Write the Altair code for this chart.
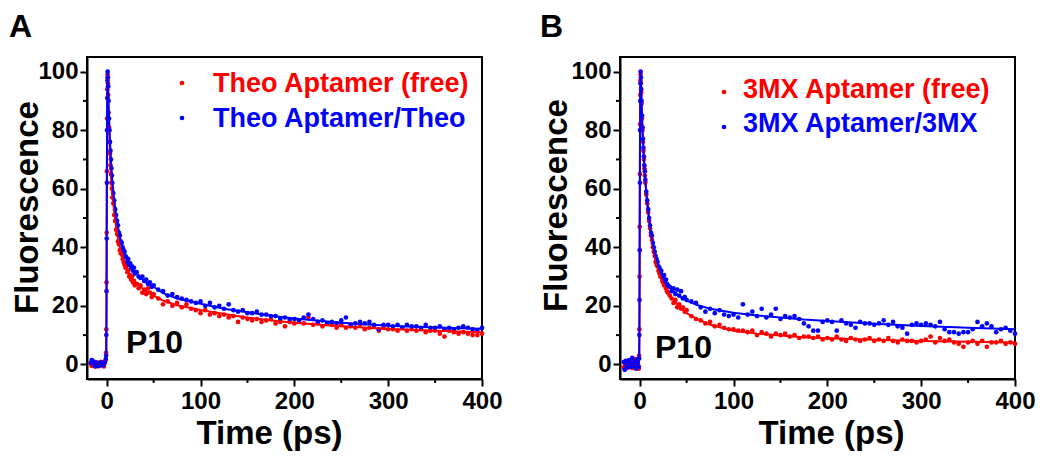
import altair as alt
import pandas as pd

RED = "#ff0000"
BLUE = "#0000ff"
FONT = "Liberation Sans"

# ---------------- data ----------------
time_ps = [
    -17, -16, -15, -14, -13, -12, -11, -10, -9, -8, -7, -6, -5, -4, -3, -2, -1,
    -0.6, -0.4, -0.2, 0, 0.2, 0.4, 0.6, 0.8,
    1.0, 1.3, 1.6, 2.0, 2.5, 3.0, 3.5, 4.0, 4.5, 5, 5.5, 6,
    7, 8, 9, 10, 11, 12, 13, 14, 15, 16, 17, 18, 19, 20,
    21, 22, 23, 24, 25, 26, 27, 28, 29, 30,
    32, 34, 36, 38, 40, 42, 44, 46, 48, 50,
    55, 60, 65, 70, 75, 80, 85, 90, 95, 100,
    105, 110, 115, 120, 125, 130, 135, 140, 145, 150,
    155, 160, 165, 170, 175, 180, 185, 190, 195, 200,
    205, 210, 215, 220, 225, 230, 235, 240, 245, 250,
    255, 260, 265, 270, 275, 280, 285, 290, 295, 300,
    305, 310, 315, 320, 325, 330, 335, 340, 345, 350,
    355, 360, 365, 370, 375, 380, 385, 390, 395, 400,
]

theo_free = [
    0.3, -0.5, 0.8, -0.2, 0.5, -0.8, 0.2, -0.4, 0.6, -0.6, 0.1, 0.9, -0.3, 0.4, -0.7, 0.5, 1.5,
    4, 12, 28, 45, 66, 84, 94, 98,
    99, 96, 92, 86, 81, 76, 72, 68, 65, 62, 60, 57,
    55, 51, 49, 46, 44.5, 42, 41, 39, 38, 37.5, 36, 35, 34, 33,
    33.5, 31.5, 32, 30, 30.5, 29, 30, 28, 28.5, 27,
    27.5, 26, 27, 24.5, 25.5, 24, 26, 24.5, 23, 24,
    22.5, 20.5, 21.5, 20, 21, 19.5, 20.5, 19, 18.5, 17.5,
    18.5, 17, 17.5, 16.5, 17, 16, 16.5, 14.5, 16, 15.5,
    15, 15.5, 14.5, 15, 15.5, 14, 14.5, 13, 14.5, 14,
    15, 14, 16, 13.5, 14, 13, 14, 13.5, 12.5, 13.5,
    12.5, 13, 12.5, 13.5, 12, 12.5, 13, 11.5, 12.5, 12,
    12, 11.5, 12.5, 11.5, 12, 11.5, 12, 11, 11.5, 11.5,
    10.5, 9.5, 11.5, 11, 10.5, 11, 10.5, 10, 10, 10.5,
]

theo_bound = [
    0.5, 1.5, 1.2, 0.3, -0.5, 0.8, -0.3, 0.2, -0.6, 0.4, -0.2, 0.6, 0.1, -0.4, 0.3, 0.8, 1.8,
    3, 10, 25, 43, 62, 80, 91, 97,
    100, 98, 95, 90, 84, 80, 76, 73, 70, 67, 64.5, 62,
    58.5, 56, 53, 51, 49, 47.5, 45, 44, 42, 41.5, 40, 39, 38.5, 37,
    36.5, 35, 36, 34, 34.5, 33, 33.5, 32, 33, 31,
    31.5, 30, 29.5, 30, 28.5, 29, 27.5, 28, 26.5, 27,
    25.5, 25, 23.5, 24, 23, 22.5, 22, 21.5, 21, 21.5,
    20, 21, 19.5, 20, 19, 20.5, 18.5, 18, 18.5, 17.5,
    17.5, 18, 17, 17, 16.5, 16.5, 15.5, 16, 15.5, 15.5,
    15, 16, 17, 15.5, 14.5, 15, 14, 14.5, 14, 15,
    16, 13.5, 14, 14.5, 14, 14.5, 13.5, 12, 13.5, 13.5,
    13, 13.5, 12.5, 13.5, 13, 13, 12.5, 13.5, 12.5, 12.5,
    13, 12, 12.5, 12, 12.5, 13, 12.5, 12, 11.5, 12.5,
]

mx_free = [
    -1, 0.5, -1.5, 0.8, -0.5, 1.2, -0.8, 0.3, 1.5, -1.2, 0.6, -0.3, 1.8, -0.6, 0.9, 0.2, -1.5,
    3, 12, 30, 47, 65, 82, 92, 97,
    99, 96, 93, 89, 84, 80, 76, 73, 70, 67, 64.5, 62,
    58, 55, 52, 49, 46.5, 44, 42.5, 40, 38.5, 37, 35, 34, 33.5, 32,
    31, 30, 30.5, 28.5, 28, 27, 27.5, 26, 25, 24.5,
    23.5, 22.5, 21, 22, 19.5, 20.5, 19, 19.5, 18, 18.5,
    16.5, 15.5, 15, 14, 14.5, 13, 13.5, 12.5, 12, 12,
    11.5, 11.5, 11, 11.5, 10, 11, 10.5, 9.5, 10.5, 10,
    10.5, 9.5, 10, 9, 9.5, 9.5, 9, 9.5, 8.5, 9,
    8.5, 9.5, 8.5, 8, 9, 8.5, 8, 8.5, 9, 8,
    8.5, 8, 9, 8, 7.5, 8.5, 8, 8, 7.5, 8,
    8.5, 9.5, 7.5, 9, 8, 8.5, 7.5, 7, 6, 7.5,
    8, 7, 8, 6, 7.5, 7.5, 8, 7, 7.5, 7,
]

mx_bound = [
    0.8, -1.8, 1.2, -0.5, 0.5, -1, 1.5, 0.2, -0.8, 2.2, 0.4, -0.4, 1, -1.5, 0.6, 1.8, -0.8,
    2, 10, 22, 39, 62, 80, 90, 96,
    100, 98, 94, 90, 85, 81, 77, 74, 71, 68, 66, 63,
    59, 56, 53, 50, 47.5, 45, 44, 41.5, 40, 38.5, 37, 36, 35, 33.5,
    33, 31.5, 32, 30, 29.5, 30.5, 28.5, 29, 27.5, 27,
    26.5, 25, 26, 24, 25.5, 23.5, 25, 22.5, 23, 22,
    21.5, 21, 19.5, 18, 19, 17.5, 18.5, 17, 16.5, 17,
    16, 20.5, 17, 18, 16.5, 19, 16, 17, 19, 15.5,
    16.5, 16, 16.5, 15.5, 14, 13, 11.5, 11.5, 14.5, 15,
    14.5, 11.5, 15, 14, 13.5, 12.5, 14.5, 14, 14, 13.5,
    14, 15, 13.5, 14.5, 13, 12.5, 10.5, 13.5, 14, 13.5,
    14, 13.5, 13, 14.5, 12, 11, 11, 10.5, 11, 11,
    12, 14.5, 13, 14, 13, 11, 12, 12.5, 11.5, 10.5,
]

fit_time = [-17, -2, -1, -0.5, -0.2, 0, 0.3, 0.6, 1, 1.5, 2, 3, 4, 5, 6, 8, 10, 12,
            15, 20, 25, 30, 40, 50, 60, 75, 100, 125, 150, 175, 200, 250, 300, 350, 400]
theo_free_fit = [0.2, 0.2, 0.5, 3, 20, 45, 75, 94, 99, 93, 86, 76, 68, 62, 58, 52, 47, 43,
                 38.5, 33.5, 30, 28, 25.5, 23.5, 21.8, 20.2, 18.6, 17.2, 16, 15, 14.2, 13, 12.1, 11.5, 11.0]
theo_bound_fit = [0.2, 0.2, 0.5, 3, 20, 45, 75, 94, 100, 95, 89, 80, 73, 67, 62.5, 56, 51, 47,
                  42, 37, 33.5, 31.5, 28.5, 26.5, 24.3, 22.5, 20.7, 19, 17.8, 16.6, 15.7, 14.2, 13.2, 12.6, 12.2]
mx_free_fit = [0, 0, 0.3, 3, 20, 45, 75, 94, 100, 95, 89, 80, 73, 67, 62.5, 55, 49, 44,
               38.5, 32, 27.5, 24.5, 20.5, 17.5, 15.7, 13.5, 11.5, 10.5, 9.9, 9.3, 8.9, 8.4, 8.0, 7.7, 7.5]
mx_bound_fit = [0, 0, 0.3, 3, 20, 45, 75, 94, 100, 95, 89, 80, 73, 67, 62.5, 55.5, 50, 45,
                40, 33.5, 29.5, 27, 23.8, 21.8, 20.4, 19, 17.6, 16.7, 16, 15.3, 14.8, 13.9, 13.1, 12.5, 12.0]

x_major = [0, 100, 200, 300, 400]
x_minor = [50, 150, 250, 350]
y_major = [0, 20, 40, 60, 80, 100]
y_minor = [10, 30, 50, 70, 90]

W, H = 395, 322


def panel(letter, letter_x, names, red_vals, blue_vals, red_fit, blue_fit, leg, p10,
          xtitle_x, ytitle_y, ytitle_pad):
    n = len(time_ps)
    pts = pd.DataFrame({"t": time_ps + time_ps, "v": red_vals + blue_vals,
                        "s": [names[0]] * n + [names[1]] * n})
    m = len(fit_time)
    fit = pd.DataFrame({"t": fit_time + fit_time, "v": red_fit + blue_fit,
                        "s": [names[0]] * m + [names[1]] * m})
    xs = alt.Scale(domain=[-21, 400], nice=False, zero=False)
    ys = alt.Scale(domain=[-5, 105], nice=False, zero=False)
    cs = alt.Scale(domain=names, range=[RED, BLUE])
    x = alt.X("t:Q", scale=xs, axis=alt.Axis(values=x_major, title="Time (ps)", labelFlush=False,
                                             titleX=xtitle_x))
    y = alt.Y("v:Q", scale=ys, axis=alt.Axis(values=y_major, title="Fluorescence", titleY=ytitle_y,
                                             titlePadding=ytitle_pad))
    color = alt.Color("s:N", scale=cs, legend=None)

    points = alt.Chart(pts).mark_circle(size=22, opacity=1).encode(x=x, y=y, color=color)
    lines = alt.Chart(fit).mark_line(strokeWidth=2).encode(x=x, y=y, color=color)
    xmin = alt.Chart(pd.DataFrame({"t": x_minor})).mark_rule(color="black", strokeWidth=2).encode(
        x=x, y=alt.value(H), y2=alt.value(H + 4))
    ymin = alt.Chart(pd.DataFrame({"v": y_minor})).mark_rule(color="black", strokeWidth=2).encode(
        y=y, x=alt.value(0), x2=alt.value(-4))

    one = pd.DataFrame({"a": [0]})
    layers = [points, lines, xmin, ymin]
    for name, col, (dx, dy, tx, ty) in zip(names, [RED, BLUE], leg):
        layers.append(alt.Chart(one).mark_circle(size=22, opacity=1, color=col).encode(
            x=alt.value(dx), y=alt.value(dy)))
        layers.append(alt.Chart(one).mark_text(text=name, font=FONT, fontSize=27, fontWeight="bold",
                                               color=col, align="left", baseline="alphabetic").encode(
            x=alt.value(tx), y=alt.value(ty)))
    layers.append(alt.Chart(one).mark_text(text="P10", font=FONT, fontSize=32, fontWeight="bold",
                                           color="black", align="left", baseline="alphabetic").encode(
        x=alt.value(p10[0]), y=alt.value(p10[1])))
    layers.append(alt.Chart(one).mark_text(text=letter, font=FONT, fontSize=32, fontWeight="bold",
                                           color="black", align="left", baseline="alphabetic").encode(
        x=alt.value(letter_x), y=alt.value(-20)))
    return alt.layer(*layers).properties(width=W, height=H)


pa = panel("A", -78, ["Theo Aptamer (free)", "Theo Aptamer/Theo"], theo_free, theo_bound,
           theo_free_fit, theo_bound_fit,
           [(95, 26, 126, 35), (95, 61, 126, 70)], (39, 296), 182, 150, -6.5)
pb = panel("B", -80, ["3MX Aptamer (free)", "3MX Aptamer/3MX"], mx_free, mx_bound,
           mx_free_fit, mx_bound_fit,
           [(104, 35, 123, 41), (104, 70, 123, 75)], (35, 301), 211, 148, -2.5)

chart = alt.hconcat(pa, pb, spacing=35).properties(
    padding={"top": 2, "left": 0, "right": 0, "bottom": 0}
).configure_axis(
    labelFont=FONT, labelFontSize=24, labelFontWeight="bold", labelColor="black",
    titleFont=FONT, titleFontSize=33, titleFontWeight="bold", titleColor="black",
    domainColor="black", domainWidth=2, tickColor="black", tickWidth=2, tickSize=7,
    grid=False, labelPadding=2,
).configure_axisX(titlePadding=4, labelPadding=3).configure_view(
    stroke="black", strokeWidth=2)

chart.save("out.html", embed_options={"renderer": "svg", "actions": False})
